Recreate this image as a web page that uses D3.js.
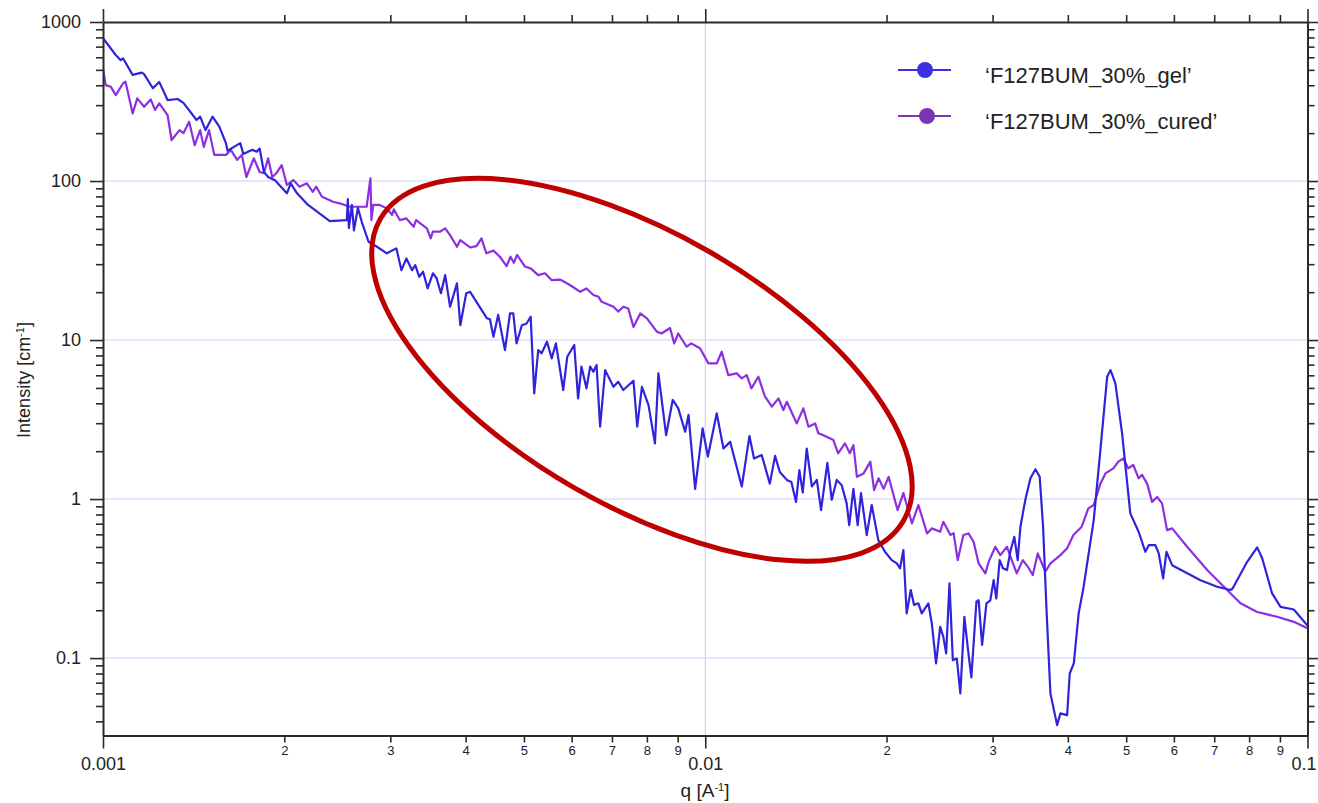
<!DOCTYPE html>
<html>
<head>
<meta charset="utf-8">
<script src="https://cdn.jsdelivr.net/npm/d3@7"></script>
<style>
  body { margin: 0; background: #ffffff; }
  svg { display: block; }
  text { font-family: "Liberation Sans", Arial, Helvetica, sans-serif; }
</style>
</head>
<body>
<svg id="chart" width="1318" height="803"></svg>
<script>
// ---------------- data ----------------
const seriesNames = ["\u2018F127BUM_30%_gel\u2019", "\u2018F127BUM_30%_cured\u2019"];

const gelQ = [
  0.001, 0.00105, 0.00107, 0.00108, 0.00112, 0.00116, 0.00117, 0.00121, 0.00124, 0.00128,
  0.00133, 0.00136, 0.00143, 0.00145, 0.00148, 0.00152, 0.00156, 0.0016, 0.00161, 0.00165,
  0.00169, 0.00171, 0.00177, 0.0018, 0.00182, 0.00185, 0.00188, 0.00193, 0.00202, 0.00205,
  0.0021, 0.00219, 0.00238, 0.00254, 0.00255, 0.00256, 0.00259, 0.00261, 0.00265, 0.00269,
  0.00276, 0.00285, 0.00296, 0.00307, 0.00313, 0.00319, 0.00326, 0.0033, 0.00335, 0.0034,
  0.00346, 0.00353, 0.00358, 0.00364, 0.0037, 0.00377, 0.00387, 0.00392, 0.00401, 0.00407,
  0.00434, 0.00439, 0.00445, 0.00453, 0.00465, 0.00474, 0.0048, 0.00486, 0.00496, 0.00505,
  0.00513, 0.0052, 0.00528, 0.00535, 0.00546, 0.00556, 0.00565, 0.00581, 0.0059, 0.00606,
  0.00615, 0.00623, 0.00635, 0.00644, 0.00652, 0.0066, 0.00669, 0.00682, 0.00704, 0.00717,
  0.00731, 0.0076, 0.00771, 0.00785, 0.00805, 0.00825, 0.00836, 0.00861, 0.00883, 0.00902,
  0.00926, 0.00938, 0.00962, 0.0099, 0.0101, 0.01045, 0.01072, 0.011, 0.0112, 0.0115,
  0.01184, 0.01205, 0.01241, 0.0128, 0.01306, 0.0133, 0.01366, 0.0139, 0.01415, 0.01433,
  0.01452, 0.01474, 0.01503, 0.01532, 0.01557, 0.01595, 0.01622, 0.01653, 0.01685, 0.01717,
  0.01734, 0.01762, 0.01791, 0.01814, 0.01854, 0.0189, 0.01938, 0.01988, 0.0204, 0.0208,
  0.02106, 0.02133, 0.0216, 0.02194, 0.02222, 0.02259, 0.02288, 0.02347, 0.02378, 0.02417,
  0.02455, 0.02485, 0.02512, 0.02544, 0.02577, 0.02616, 0.02652, 0.02693, 0.02727, 0.02766,
  0.0282, 0.02844, 0.02882, 0.0293, 0.02974, 0.03012, 0.03043, 0.03082, 0.03122, 0.0317,
  0.0321, 0.0326, 0.03302, 0.03337, 0.034, 0.03467, 0.03534, 0.03592, 0.03639, 0.03685,
  0.03742, 0.03839, 0.03888, 0.03989, 0.04029, 0.04092, 0.04169, 0.04249, 0.04416, 0.0453,
  0.04649, 0.04709, 0.04797, 0.04922, 0.05079, 0.05243, 0.0538, 0.05449, 0.0559, 0.05662,
  0.05758, 0.05832, 0.0596, 0.06641, 0.0708, 0.07448, 0.0751, 0.0794, 0.0825, 0.0841,
  0.08735, 0.0902, 0.0949, 0.1
];
const gelI = [
  790, 620, 575, 590, 465, 480, 470, 383, 420, 323,
  328, 310, 242, 254, 209, 254, 220, 173, 155, 164,
  173, 148, 157, 153, 160, 114, 106, 101, 83.7, 96.7,
  83.7, 70.7, 56, 56.8, 77, 50.6, 70.7, 49, 67.6, 55.2,
  41.5, 38.6, 35.1, 37.7, 27.5, 32.6, 27.5, 29.6, 25, 26.9,
  21.1, 26.3, 24.5, 19.7, 25.6, 16.2, 22.7, 12.4, 19.7, 20.1,
  13.7, 13.5, 10.5, 14.4, 8.65, 14.7, 14.7, 9.53, 12.4, 12.7,
  14.0, 4.62, 8.65, 8.25, 9.76, 7.67, 9.53, 4.85, 7.85, 9.3,
  4.3, 6.8, 4.97, 6.8, 6.32, 6.96, 2.85, 6.47, 5.08, 5.47,
  4.85, 5.55, 2.85, 5.08, 3.9, 2.24, 6.17, 2.52, 4.2, 3.72,
  2.65, 3.38, 1.16, 2.78, 1.85, 3.46, 2.08, 2.29, 1.76, 1.2,
  2.49, 1.8, 1.89, 1.25, 1.87, 1.48, 1.32, 1.28, 0.96, 1.52,
  1.1, 2.08, 1.2, 1.32, 0.853, 1.69, 0.99, 1.32, 1.22, 0.94,
  0.686, 1.16, 0.686, 1.09, 0.594, 0.917, 0.552, 0.466, 0.413, 0.394,
  0.367, 0.478, 0.191, 0.268, 0.216, 0.221, 0.191, 0.221, 0.165, 0.0926,
  0.157, 0.136, 0.107, 0.295, 0.0971, 0.0995, 0.06, 0.182, 0.118, 0.0756,
  0.226, 0.231, 0.121, 0.221, 0.231, 0.309, 0.237, 0.413, 0.367, 0.358,
  0.466, 0.579, 0.413, 0.67, 0.99, 1.35, 1.54, 1.38, 0.67, 0.21,
  0.06, 0.0379, 0.0449, 0.0438, 0.08, 0.0926, 0.191, 0.281, 0.738, 2.03,
  5.88, 6.47, 5.34, 2.59, 0.813, 0.623, 0.466, 0.513, 0.513, 0.455,
  0.317, 0.466, 0.384, 0.309, 0.281, 0.268, 0.274, 0.403, 0.497, 0.424,
  0.255, 0.21, 0.202, 0.16
];

const curedQ = [
  0.001, 0.00101, 0.00103, 0.00105, 0.00108, 0.00109, 0.00112, 0.00114, 0.00117, 0.0012,
  0.00122, 0.00124, 0.00128, 0.0013, 0.00134, 0.00136, 0.00139, 0.00142, 0.00145, 0.00147,
  0.0015, 0.00153, 0.0016, 0.00163, 0.00167, 0.0017, 0.00173, 0.00178, 0.00182, 0.00185,
  0.00188, 0.00191, 0.00194, 0.00198, 0.00202, 0.00207, 0.00212, 0.00218, 0.00223, 0.00226,
  0.00231, 0.00241, 0.00247, 0.00257, 0.00267, 0.00274, 0.00278, 0.00279, 0.00281, 0.00288,
  0.00296, 0.00302, 0.00304, 0.00311, 0.00319, 0.00328, 0.00331, 0.00345, 0.0035, 0.00353,
  0.00363, 0.0037, 0.00377, 0.00387, 0.00392, 0.00407, 0.00417, 0.00425, 0.00433, 0.00445,
  0.00456, 0.00468, 0.00475, 0.00481, 0.00487, 0.00502, 0.00513, 0.00528, 0.00542, 0.00556,
  0.00574, 0.00596, 0.0062, 0.00635, 0.00652, 0.00665, 0.00673, 0.00704, 0.00717, 0.00731,
  0.00745, 0.0076, 0.0078, 0.008, 0.00831, 0.00846, 0.00874, 0.00888, 0.00902, 0.00931,
  0.00948, 0.0098, 0.01012, 0.01045, 0.01065, 0.01092, 0.01128, 0.0115, 0.01172, 0.01193,
  0.01225, 0.01257, 0.0129, 0.01323, 0.01348, 0.01366, 0.01419, 0.01455, 0.01484, 0.01522,
  0.01541, 0.01571, 0.01632, 0.01662, 0.01706, 0.01738, 0.01762, 0.01786, 0.01832, 0.0188,
  0.01907, 0.0194, 0.01978, 0.02016, 0.02086, 0.02133, 0.02204, 0.02259, 0.02335, 0.02378,
  0.02455, 0.02485, 0.02553, 0.02585, 0.02625, 0.02683, 0.02736, 0.0279, 0.02844, 0.02918,
  0.02955, 0.03031, 0.0309, 0.0317, 0.03228, 0.0329, 0.03368, 0.03433, 0.03498, 0.03565,
  0.03671, 0.03742, 0.03888, 0.03989, 0.04086, 0.04218, 0.04326, 0.04416, 0.0453, 0.04618,
  0.0476, 0.04852, 0.04945, 0.0504, 0.05137, 0.05243, 0.05312, 0.05416, 0.0552, 0.05627,
  0.05735, 0.05845, 0.0596, 0.06311, 0.06815, 0.07355, 0.0774, 0.0825, 0.08906, 0.0949,
  0.1
];
const curedI = [
  510, 401, 392, 347, 412, 421, 266, 331, 293, 326,
  280, 308, 260, 181, 209, 200, 236, 168, 209, 164,
  209, 146, 146, 157, 136, 146, 106, 139, 114, 112,
  139, 106, 112, 126, 94.4, 101.5, 92.1, 96.7, 85.6, 92.1,
  79.7, 74.1, 72.4, 68.9, 68.9, 68.9, 104, 56.8, 70.7, 70.7,
  67.3, 61.1, 66.4, 56.8, 58.2, 51.6, 56.8, 50.4, 43.6, 48,
  48, 50.4, 45.7, 38.6, 42.5, 38.2, 39, 43.6, 35.1, 36.5,
  33.4, 29.2, 33.4, 30.6, 34.3, 29, 28.2, 25.6, 26.3, 23.8,
  24, 22.2, 20.1, 21.1, 19.2, 18.7, 17.4, 16.2, 15.1, 16.2,
  15.8, 12.1, 14.7, 13.7, 11.3, 11.0, 11.9, 9.53, 11.0, 9.08,
  9.53, 8.87, 7.13, 7.13, 8.44, 6.02, 6.17, 5.74, 6.02, 4.97,
  5.88, 4.4, 3.81, 4.3, 3.63, 4.09, 2.99, 3.72, 2.85, 2.99,
  2.59, 2.52, 2.35, 1.94, 2.24, 1.94, 2.18, 1.38, 1.45, 1.72,
  1.14, 1.35, 1.16, 1.38, 0.853, 1.09, 0.703, 0.917, 0.608, 0.654,
  0.623, 0.72, 0.594, 0.611, 0.413, 0.594, 0.608, 0.539, 0.394, 0.341,
  0.403, 0.501, 0.444, 0.501, 0.413, 0.341, 0.413, 0.375, 0.333, 0.455,
  0.349, 0.394, 0.444, 0.49, 0.594, 0.67, 0.874, 0.917, 1.25, 1.45,
  1.56, 1.72, 1.8, 1.56, 1.64, 1.35, 1.42, 1.25, 0.96, 1.03,
  0.94, 0.638, 0.654, 0.501, 0.358, 0.268, 0.221, 0.195, 0.182, 0.169,
  0.154
];

const xDomain = [0.001, 0.1];
const yDomain = [0.0326, 1000];
const xMajorTicks = [0.001, 0.01, 0.1];
const xMajorLabels = ["0.001", "0.01", "0.1"];
const yMajorTicks = [0.1, 1, 10, 100, 1000];
const yMajorLabels = ["0.1", "1", "10", "100", "1000"];
const xGridTicks = [0.01];
const yGridTicks = [0.1, 1, 10, 100];
const xTitle = ["q [A", "-1", "]"];
const yTitle = ["Intensity [cm", "-1", "]"];
// annotation ellipse (centre given in data units)
const highlight = { q: 0.00785, I: 6.5 };

// ---------------- drawing ----------------
const svg = d3.select("#chart");
const plot = { left: 103, right: 1307.5, top: 22, bottom: 735.5 };
const x = d3.scaleLog().domain(xDomain).range([plot.left, plot.right]);
const y = d3.scaleLog().domain(yDomain).range([plot.bottom, plot.top]);

function logTicks(lo, hi) {
  const t = [];
  for (let e = Math.floor(Math.log10(lo)); e <= Math.ceil(Math.log10(hi)); e++) {
    for (let m = 1; m < 10; m++) {
      const v = +(m * Math.pow(10, e)).toPrecision(6);
      if (v >= lo * 0.9999 && v <= hi * 1.0001) t.push(v);
    }
  }
  return t;
}
const isMajor = v => Math.abs(Math.log10(v) - Math.round(Math.log10(v))) < 1e-6;
const mantissa = v => Math.round(v / Math.pow(10, Math.floor(Math.log10(v) + 1e-9)));
const xTicks = logTicks(xDomain[0], xDomain[1]);
const yTicks = logTicks(yDomain[0], yDomain[1]);

const axisColor = "#2a2a2a";

// gridlines
svg.append("g").selectAll("line").data(yGridTicks).join("line")
  .attr("x1", plot.left).attr("x2", plot.right)
  .attr("y1", d => y(d)).attr("y2", d => y(d))
  .attr("stroke", "#e6e6fc").attr("stroke-width", 2);
svg.append("g").selectAll("line").data(xGridTicks).join("line")
  .attr("x1", d => x(d)).attr("x2", d => x(d))
  .attr("y1", plot.top).attr("y2", plot.bottom)
  .attr("stroke", "#d2d2fb").attr("stroke-width", 1.2);

// series
svg.append("clipPath").attr("id", "clip").append("rect")
  .attr("x", plot.left).attr("y", plot.top)
  .attr("width", plot.right - plot.left).attr("height", plot.bottom - plot.top);

const line = d3.line().x(d => x(d[0])).y(d => y(d[1]));
const cured = curedQ.map((q, i) => [q, curedI[i]]);
const gel = gelQ.map((q, i) => [q, gelI[i]]);
const gSeries = svg.append("g").attr("clip-path", "url(#clip)");
gSeries.append("path").datum(cured).attr("d", line)
  .attr("fill", "none").attr("stroke", "#8c2fe0").attr("stroke-width", 2.2)
  .attr("stroke-linejoin", "round");
gSeries.append("path").datum(gel).attr("d", line)
  .attr("fill", "none").attr("stroke", "#2f24dc").attr("stroke-width", 2.2)
  .attr("stroke-linejoin", "round");

// axes
function styleAxis(g, sizeFn, sign, horizontal) {
  g.select(".domain").attr("stroke", axisColor).attr("stroke-width", 2);
  g.selectAll(".tick line").attr("stroke", axisColor).attr("stroke-width", 1.6)
    .attr(horizontal ? "y2" : "x2", d => sign * sizeFn(d));
}
const tickLen = d => isMajor(d) ? 13 : 7;

const gBottom = svg.append("g").attr("transform", `translate(0,${plot.bottom})`)
  .call(d3.axisBottom(x).tickValues(xTicks).tickSizeOuter(0)
    .tickFormat(d => isMajor(d) ? xMajorLabels[xMajorTicks.indexOf(d)] : String(mantissa(d))));
styleAxis(gBottom, tickLen, 1, true);
gBottom.selectAll(".tick text")
  .attr("dy", null)
  .attr("y", d => isMajor(d) ? 34.5 : 19.5)
  .attr("x", d => d === xDomain[1] ? -4 : 0)
  .attr("fill", "#222")
  .style("font-size", d => isMajor(d) ? "18px" : "13px");

const gTop = svg.append("g").attr("transform", `translate(0,${plot.top})`)
  .call(d3.axisTop(x).tickValues(xTicks).tickSizeOuter(0).tickFormat(""));
styleAxis(gTop, tickLen, -1, true);

const gLeft = svg.append("g").attr("transform", `translate(${plot.left},0)`)
  .call(d3.axisLeft(y).tickValues(yTicks).tickSizeOuter(0)
    .tickFormat(d => isMajor(d) ? yMajorLabels[yMajorTicks.indexOf(d)] : ""));
styleAxis(gLeft, tickLen, -1, false);
gLeft.selectAll(".tick text")
  .attr("x", -22).attr("fill", "#222").style("font-size", "18px");

const gRight = svg.append("g").attr("transform", `translate(${plot.right},0)`)
  .call(d3.axisRight(y).tickValues(yTicks).tickSizeOuter(0).tickFormat(""));
styleAxis(gRight, tickLen, 1, false);

// axis titles
const xt = svg.append("text").attr("x", 705).attr("y", 797)
  .attr("text-anchor", "middle").attr("fill", "#222").style("font-size", "19px");
xt.append("tspan").text(xTitle[0]);
xt.append("tspan").attr("baseline-shift", "super").style("font-size", "11px").text(xTitle[1]);
xt.append("tspan").text(xTitle[2]);

const yt = svg.append("text").attr("transform", "translate(30,380) rotate(-90)")
  .attr("text-anchor", "middle").attr("fill", "#222").style("font-size", "18px");
yt.append("tspan").text(yTitle[0]);
yt.append("tspan").attr("baseline-shift", "super").style("font-size", "11px").text(yTitle[1]);
yt.append("tspan").text(yTitle[2]);

// legend
const legendColors = ["#3b30e2", "#7a35b2"];
const legend = svg.append("g");
const lg = legend.selectAll("g").data(seriesNames).join("g")
  .attr("transform", (d, i) => `translate(0,${70 + i * 46})`);
lg.append("line").attr("x1", 898).attr("x2", 951).attr("y1", 0).attr("y2", 0)
  .attr("stroke", (d, i) => legendColors[i]).attr("stroke-width", 2);
lg.append("circle").attr("cx", (d, i) => 925 + i * 2).attr("cy", 0).attr("r", 8)
  .attr("fill", (d, i) => legendColors[i]);
lg.append("text").attr("x", 985).attr("y", 13)
  .attr("fill", "#222").style("font-size", "22px").text(d => d);

// annotation ellipse
svg.append("ellipse")
  .attr("cx", x(highlight.q)).attr("cy", y(highlight.I))
  .attr("rx", 302).attr("ry", 136)
  .attr("transform", `rotate(30,${x(highlight.q)},${y(highlight.I)})`)
  .attr("fill", "none").attr("stroke", "#bf0000").attr("stroke-width", 5);
</script>
</body>
</html>
